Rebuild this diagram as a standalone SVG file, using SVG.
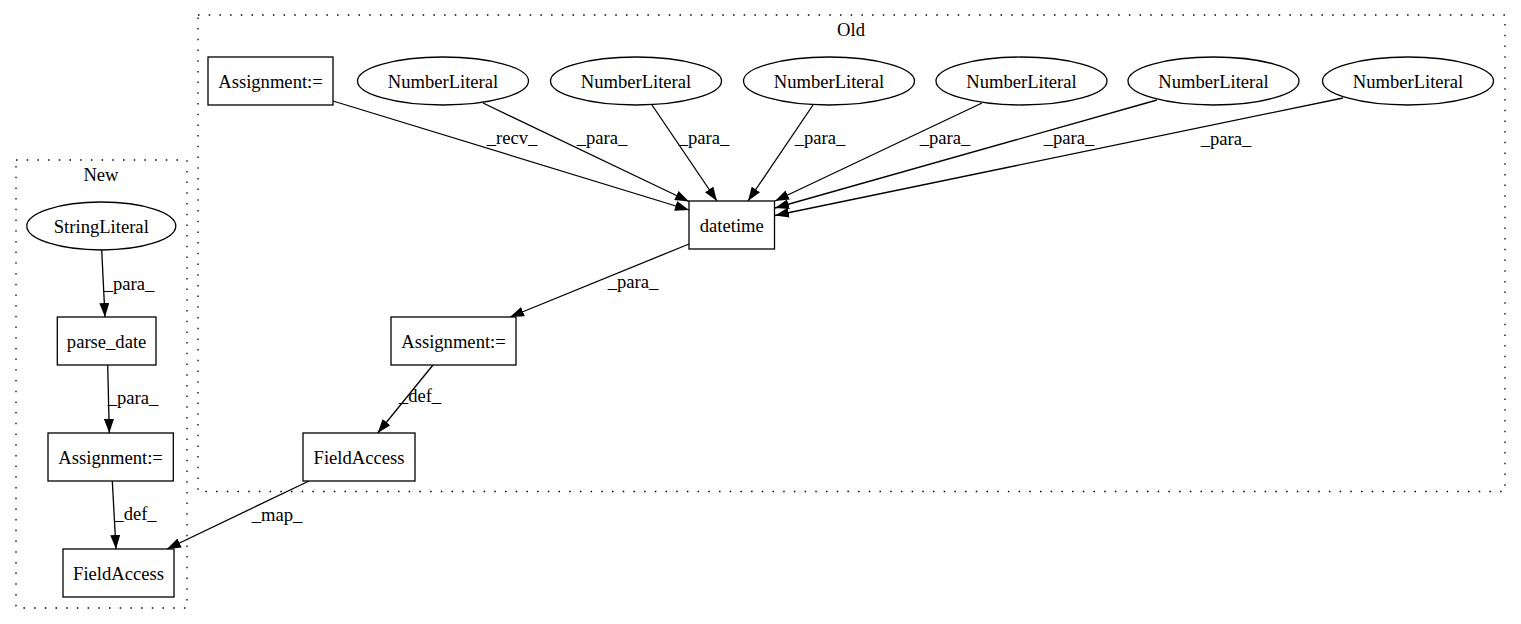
<svg xmlns="http://www.w3.org/2000/svg" width="1521" height="624" viewBox="0 0 1521 624">
<style>
  .cl { fill: none; stroke: #000; stroke-width: 1.3; stroke-dasharray: 1.5 9.2; }
  .nd { fill: #fff; stroke: #000; stroke-width: 1.3; }
  .t { font-family: "Liberation Serif", "Times New Roman", serif; font-size: 18.6px; text-anchor: middle; fill: #000; }
  .e { fill: none; stroke: #000; stroke-width: 1.3; marker-end: url(#arr); }
</style>
<defs>
  <marker id="arr" viewBox="0 0 14 10" refX="14" refY="5" markerWidth="14" markerHeight="10" markerUnits="userSpaceOnUse" orient="auto">
    <path d="M0,0 L14,5 L0,10 z" fill="#000"/>
  </marker>
</defs>
<rect width="1521" height="624" fill="#fff"/>
<g id="cluster_old">
  <rect class="cl" x="198" y="15" width="1307" height="476.5"/>
  <text class="t" x="851" y="36">Old</text>
</g>
<g id="cluster_new">
  <rect class="cl" x="16" y="160" width="171" height="448"/>
  <text class="t" x="101" y="181">New</text>
</g>
<g id="connectors">
  <line class="e" x1="333" y1="101" x2="689" y2="210"/>
  <text class="t" x="512" y="143.5">_recv_</text>
  <line class="e" x1="483" y1="103" x2="689" y2="201.5"/>
  <text class="t" x="602" y="143.5">_para_</text>
  <line class="e" x1="652" y1="105" x2="717" y2="201"/>
  <text class="t" x="704" y="143.5">_para_</text>
  <line class="e" x1="813" y1="105" x2="748" y2="201"/>
  <text class="t" x="820" y="143.5">_para_</text>
  <line class="e" x1="982" y1="103" x2="775" y2="201"/>
  <text class="t" x="945" y="143.5">_para_</text>
  <line class="e" x1="1157" y1="100" x2="775" y2="208"/>
  <text class="t" x="1069" y="143.5">_para_</text>
  <line class="e" x1="1343" y1="98" x2="775" y2="215.5"/>
  <text class="t" x="1226" y="145">_para_</text>
  <line class="e" x1="689" y1="244" x2="510" y2="317"/>
  <text class="t" x="633" y="288">_para_</text>
  <line class="e" x1="433" y1="365" x2="377.7" y2="433"/>
  <text class="t" x="420" y="402">_def_</text>
  <line class="e" x1="309" y1="481" x2="167" y2="549"/>
  <text class="t" x="277" y="521">_map_</text>
  <line class="e" x1="101.7" y1="250" x2="105" y2="317"/>
  <text class="t" x="129" y="289.5">_para_</text>
  <line class="e" x1="107.7" y1="365" x2="109.3" y2="433"/>
  <text class="t" x="133" y="403.5">_para_</text>
  <line class="e" x1="112.3" y1="481" x2="116" y2="549"/>
  <text class="t" x="135.5" y="520">_def_</text>
</g>
<g id="n_assign_old_top">
  <rect class="nd" x="208" y="57" width="125" height="48"/>
  <text class="t" x="270.5" y="87.5">Assignment:=</text>
</g>
<g id="n_num1">
  <ellipse class="nd" cx="443" cy="81" rx="85.5" ry="24"/>
  <text class="t" x="443" y="87.5">NumberLiteral</text>
</g>
<g id="n_num2">
  <ellipse class="nd" cx="636" cy="81" rx="85.5" ry="24"/>
  <text class="t" x="636" y="87.5">NumberLiteral</text>
</g>
<g id="n_num3">
  <ellipse class="nd" cx="829" cy="81" rx="85.5" ry="24"/>
  <text class="t" x="829" y="87.5">NumberLiteral</text>
</g>
<g id="n_num4">
  <ellipse class="nd" cx="1021.5" cy="81" rx="85.5" ry="24"/>
  <text class="t" x="1021.5" y="87.5">NumberLiteral</text>
</g>
<g id="n_num5">
  <ellipse class="nd" cx="1213.5" cy="81" rx="85.5" ry="24"/>
  <text class="t" x="1213.5" y="87.5">NumberLiteral</text>
</g>
<g id="n_num6">
  <ellipse class="nd" cx="1408" cy="81" rx="85.5" ry="24"/>
  <text class="t" x="1408" y="87.5">NumberLiteral</text>
</g>
<g id="n_datetime">
  <rect class="nd" x="689" y="201" width="85.5" height="48"/>
  <text class="t" x="731.8" y="231.5">datetime</text>
</g>
<g id="n_assign_old">
  <rect class="nd" x="391" y="317" width="125" height="48"/>
  <text class="t" x="453.5" y="347.5">Assignment:=</text>
</g>
<g id="n_field_old">
  <rect class="nd" x="303" y="433" width="112" height="48"/>
  <text class="t" x="359" y="463.5">FieldAccess</text>
</g>
<g id="n_string">
  <ellipse class="nd" cx="101.3" cy="226" rx="74.5" ry="24"/>
  <text class="t" x="101.3" y="232.5">StringLiteral</text>
</g>
<g id="n_parse">
  <rect class="nd" x="57.3" y="317" width="98.7" height="48"/>
  <text class="t" x="106.6" y="347.5">parse_date</text>
</g>
<g id="n_assign_new">
  <rect class="nd" x="48" y="433" width="125.3" height="48"/>
  <text class="t" x="110.6" y="463.5">Assignment:=</text>
</g>
<g id="n_field_new">
  <rect class="nd" x="63" y="549" width="111" height="48"/>
  <text class="t" x="118.5" y="579.5">FieldAccess</text>
</g>
</svg>
